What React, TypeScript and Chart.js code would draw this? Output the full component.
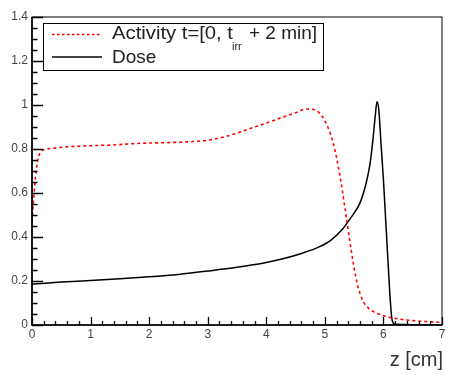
import React, { useEffect, useRef } from "react";
import { Chart, registerables } from "chart.js";

Chart.register(...registerables);

// ---- data ----
const activityZ = [0, 0.03, 0.07, 0.12, 0.19, 0.35, 0.6, 1.0, 1.35, 1.85, 2.3, 2.7, 3.0, 3.25, 3.5, 3.75, 4.0, 4.25, 4.5, 4.69, 4.85, 4.95, 5.05, 5.15, 5.25, 5.35, 5.45, 5.55, 5.65, 5.75, 5.85, 6.0, 6.2, 6.5, 7.0];
const activityValues = [0.47, 0.58, 0.7, 0.77, 0.795, 0.803, 0.81, 0.815, 0.818, 0.826, 0.829, 0.833, 0.84, 0.853, 0.872, 0.895, 0.918, 0.942, 0.965, 0.982, 0.975, 0.95, 0.9, 0.82, 0.69, 0.52, 0.34, 0.19, 0.11, 0.075, 0.058, 0.042, 0.03, 0.02, 0.012];

const doseZ = [0, 0.5, 1, 1.5, 2, 2.5, 3, 3.5, 4, 4.3, 4.6, 4.9, 5.1, 5.3, 5.45, 5.6, 5.7, 5.77, 5.82, 5.86, 5.89, 5.92, 5.96, 6.0, 6.04, 6.08, 6.12, 6.15, 6.2, 7];
const doseValues = [0.186, 0.195, 0.202, 0.21, 0.219, 0.23, 0.245, 0.262, 0.284, 0.302, 0.325, 0.355, 0.385, 0.435, 0.49, 0.555, 0.64, 0.73, 0.84, 0.95, 1.015, 0.98, 0.82, 0.66, 0.47, 0.28, 0.1, 0.02, 0.003, 0];

const xTickValues = [0, 1, 2, 3, 4, 5, 6, 7];
const xTickLabels = ["0", "1", "2", "3", "4", "5", "6", "7"];
const yTickValues = [0, 0.2, 0.4, 0.6, 0.8, 1, 1.2, 1.4];
const yTickLabels = ["0", "0.2", "0.4", "0.6", "0.8", "1", "1.2", "1.4"];
const xMinorStep = 0.2;
const yMinorStep = 0.05;

const activityLabelMain = "Activity t=[0, t";
const activityLabelSub = "irr";
const activityLabelTail = "+ 2 min]";
const doseLabel = "Dose";
const xAxisTitle = "z [cm]";

const FONT = '"Liberation Sans", Arial, Helvetica, sans-serif';

const rootPlugin = {
  id: "rootStyle",
  afterDatasetsDraw(chart: any) {
    const ctx = chart.ctx as CanvasRenderingContext2D;
    const { left, right, top, bottom } = chart.chartArea;
    const xs = chart.scales.x;
    const ys = chart.scales.y;
    ctx.save();

    // frame
    ctx.strokeStyle = "#000";
    ctx.lineWidth = 1;
    ctx.strokeRect(left, top, right - left, bottom - top);
    ctx.lineWidth = 1.6;
    ctx.beginPath();
    ctx.moveTo(left, top);
    ctx.lineTo(left, bottom);
    ctx.lineTo(right, bottom);
    ctx.stroke();

    // ticks (inward)
    ctx.lineWidth = 1.3;
    ctx.beginPath();
    const yMin = ys.min, yMax = ys.max;
    const nY = Math.round((yMax - yMin) / yMinorStep);
    for (let i = 0; i <= nY; i++) {
      const v = yMin + i * yMinorStep;
      const py = Math.round(ys.getPixelForValue(v)) + 0.5;
      const major = i % 4 === 0;
      ctx.moveTo(left, py);
      ctx.lineTo(left + (major ? 11 : 5.5), py);
    }
    const xMin = xs.min, xMax = xs.max;
    const nX = Math.round((xMax - xMin) / xMinorStep);
    for (let i = 0; i <= nX; i++) {
      const v = xMin + i * xMinorStep;
      const px = Math.round(xs.getPixelForValue(v)) + 0.5;
      const major = i % 5 === 0;
      ctx.moveTo(px, bottom);
      ctx.lineTo(px, bottom - (major ? 8 : 4));
    }
    ctx.stroke();

    // tick labels
    ctx.fillStyle = "#444";
    ctx.font = "12px " + FONT;
    ctx.textAlign = "right";
    ctx.textBaseline = "middle";
    yTickValues.forEach((v, i) => {
      ctx.fillText(yTickLabels[i], left - 4, ys.getPixelForValue(v));
    });
    ctx.textAlign = "center";
    ctx.textBaseline = "top";
    xTickValues.forEach((v, i) => {
      ctx.fillText(xTickLabels[i], xs.getPixelForValue(v), bottom + 4);
    });

    // axis title
    ctx.fillStyle = "#333";
    ctx.font = "20px " + FONT;
    ctx.textAlign = "right";
    ctx.textBaseline = "alphabetic";
    ctx.fillText(xAxisTitle, right + 1, 366);

    // legend box
    const lx = 43, ly = 23, lw = 280, lh = 47;
    ctx.fillStyle = "#fff";
    ctx.fillRect(lx, ly, lw, lh);
    ctx.strokeStyle = "#000";
    ctx.lineWidth = 1;
    ctx.strokeRect(lx + 0.5, ly + 0.5, lw, lh);

    // legend entries
    ctx.lineWidth = 1.3;
    ctx.strokeStyle = "#ff0000";
    ctx.setLineDash([2.5, 2.5]);
    ctx.beginPath();
    ctx.moveTo(52, 34.5);
    ctx.lineTo(102, 34.5);
    ctx.stroke();
    ctx.setLineDash([]);
    ctx.strokeStyle = "#444";
    ctx.lineWidth = 1.8;
    ctx.beginPath();
    ctx.moveTo(52, 57);
    ctx.lineTo(102, 57);
    ctx.stroke();

    ctx.fillStyle = "#222";
    ctx.textAlign = "left";
    ctx.textBaseline = "alphabetic";
    ctx.font = "19px " + FONT;
    const tx = 112;
    const mainEnd = 233;
    const w1 = ctx.measureText(activityLabelMain).width;
    ctx.save();
    ctx.translate(tx, 39);
    ctx.scale((mainEnd - tx) / w1, 1);
    ctx.fillText(activityLabelMain, 0, 0);
    ctx.restore();
    ctx.font = "11px " + FONT;
    ctx.fillText(activityLabelSub, 232, 50);
    ctx.font = "19px " + FONT;
    ctx.fillText(activityLabelTail, 249, 39);
    ctx.fillText(doseLabel, tx, 63);

    ctx.restore();
  },
};

export default function App() {
  const canvasRef = useRef<HTMLCanvasElement | null>(null);

  useEffect(() => {
    const canvas = canvasRef.current;
    if (!canvas) return;
    const chart = new Chart(canvas, {
      type: "line",
      data: {
        datasets: [
          {
            label: "Activity",
            data: activityZ.map((z, i) => ({ x: z, y: activityValues[i] })),
            borderColor: "#ff0000",
            borderWidth: 1.6,
            borderDash: [3, 3],
            pointRadius: 0,
            cubicInterpolationMode: "monotone",
            fill: false,
          },
          {
            label: "Dose",
            data: doseZ.map((z, i) => ({ x: z, y: doseValues[i] })),
            borderColor: "#000000",
            borderWidth: 1.5,
            pointRadius: 0,
            cubicInterpolationMode: "monotone",
            fill: false,
          },
        ],
      },
      options: {
        animation: false,
        responsive: false,
        devicePixelRatio: 1,
        layout: { padding: { left: 32, right: 10, top: 17, bottom: 50 } },
        plugins: { legend: { display: false }, tooltip: { enabled: false } },
        scales: {
          x: { type: "linear", min: 0, max: 7, display: false },
          y: { type: "linear", min: 0, max: 1.4, display: false },
        },
      },
      plugins: [rootPlugin],
    });
    return () => chart.destroy();
  }, []);

  return (
    <div style={{ position: "fixed", left: 0, top: 0, width: 452, height: 375, background: "#fff" }}>
      <canvas ref={canvasRef} width={452} height={375} style={{ width: 452, height: 375, display: "block" }} />
    </div>
  );
}
